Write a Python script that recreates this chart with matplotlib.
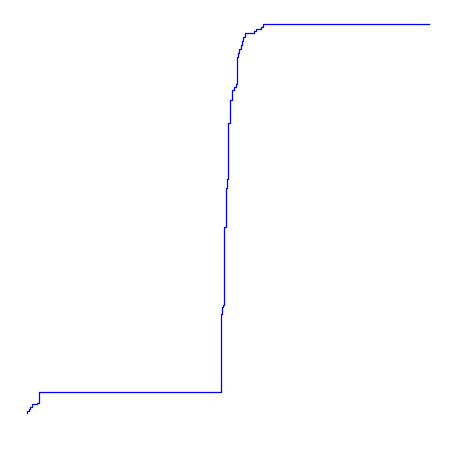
import matplotlib
matplotlib.use('Agg')
import matplotlib.pyplot as plt

# step positions (x) and cumulative levels (y)
x_vals = [0, 0, 1.4, 3.0, 5.0, 9.7, 12.0, 194.0, 195.0, 196.0, 197.0, 198.7,
          200.0, 201.0, 203.0, 204.7, 206.7, 208.4, 209.7, 210.7, 211.7, 213.4,
          214.4, 216.0, 217.4, 227.0, 229.0, 234.0, 235.4, 401.4]
y_vals = [0, 2.6, 4.3, 6.0, 9.3, 10.0, 21.0, 99.3, 106.0, 108.3, 186.3, 225.0,
          234.3, 290.6, 313.3, 323.3, 326.3, 329.3, 356.3, 360.3, 364.6, 368.0,
          372.0, 376.0, 380.0, 382.0, 384.6, 386.6, 389.3, 389.3]

fig = plt.figure(figsize=(4.5, 4.5), dpi=100)
ax = fig.add_axes([27.3 / 450, (450 - 413.3) / 450, 401.4 / 450, 389.3 / 450])
ax.step(x_vals, y_vals, where='post', color='blue', linewidth=0.9, clip_on=False)
ax.set_xlim(0, 401.4)
ax.set_ylim(0, 389.3)
ax.axis('off')

plt.savefig('out.png', dpi=100)
plt.close()
